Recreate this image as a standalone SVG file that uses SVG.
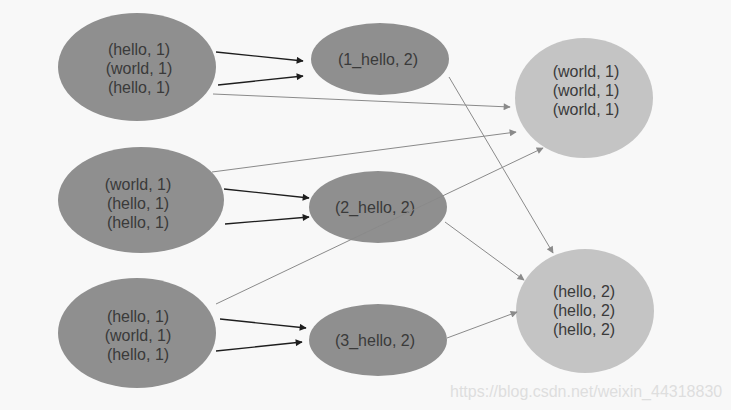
<svg xmlns="http://www.w3.org/2000/svg" width="731" height="410" viewBox="0 0 731 410">
<defs>
<marker id="ab" viewBox="0 0 10 10" refX="9" refY="5" markerWidth="9" markerHeight="7" markerUnits="userSpaceOnUse" orient="auto"><path d="M0,0 L10,5 L0,10 z" fill="#1e1e1e"/></marker>
<marker id="ag" viewBox="0 0 10 10" refX="9" refY="5" markerWidth="9" markerHeight="7" markerUnits="userSpaceOnUse" orient="auto"><path d="M0,0 L10,5 L0,10 z" fill="#8a8a8a"/></marker>
</defs>
<style>
.dk{fill:#8f8f8f}
.lt{fill:#c4c4c4}
text{font-family:"Liberation Sans",Arial,sans-serif;font-size:16px;fill:#3a3a3a;text-anchor:middle}
.b{stroke:#1e1e1e;stroke-width:1.3;fill:none;marker-end:url(#ab)}
.g{stroke:#8a8a8a;stroke-width:1;fill:none;marker-end:url(#ag)}
.wm{font-family:"Liberation Sans",Arial,sans-serif;font-size:16px;fill:#dedede;text-anchor:start}
</style>
<rect width="731" height="410" fill="#f8f8f8"/>
<g id="L1"><ellipse class="dk" cx="137" cy="67" rx="79" ry="54"/><text x="139" y="55">(hello, 1)</text><text x="139" y="74">(world, 1)</text><text x="139" y="93">(hello, 1)</text></g>
<g id="L2"><ellipse class="dk" cx="141" cy="200" rx="83" ry="53"/><text x="138" y="190">(world, 1)</text><text x="138" y="209">(hello, 1)</text><text x="138" y="228">(hello, 1)</text></g>
<g id="L3"><ellipse class="dk" cx="137" cy="333" rx="79" ry="55"/><text x="138" y="322">(hello, 1)</text><text x="138" y="341">(world, 1)</text><text x="138" y="360">(hello, 1)</text></g>
<g id="M1"><ellipse class="dk" cx="380" cy="59" rx="69" ry="36"/><text x="378" y="65">(1_hello, 2)</text></g>
<g id="M2"><ellipse class="dk" cx="378" cy="207" rx="69" ry="36"/><text x="375" y="213">(2_hello, 2)</text></g>
<g id="M3"><ellipse class="dk" cx="378" cy="340" rx="69" ry="36"/><text x="375" y="346">(3_hello, 2)</text></g>
<g id="R1"><ellipse class="lt" cx="584" cy="98" rx="69" ry="60"/><text x="586" y="77">(world, 1)</text><text x="586" y="96">(world, 1)</text><text x="586" y="115">(world, 1)</text></g>
<g id="R2"><ellipse class="lt" cx="585" cy="311" rx="69" ry="62"/><text x="584" y="297">(hello, 2)</text><text x="584" y="316">(hello, 2)</text><text x="584" y="335">(hello, 2)</text></g>
<g id="connectors">
<line class="b" x1="216" y1="52" x2="303" y2="61"/>
<line class="b" x1="218" y1="85" x2="303" y2="76"/>
<line class="g" x1="213" y1="94" x2="510" y2="107"/>
<line class="g" x1="449" y1="77" x2="553" y2="253"/>
<line class="g" x1="212" y1="172" x2="516" y2="132"/>
<line class="b" x1="224" y1="189" x2="309" y2="198"/>
<line class="b" x1="225" y1="224" x2="309" y2="217"/>
<line class="g" x1="216" y1="304" x2="543" y2="148"/>
<line class="g" x1="445" y1="222" x2="524" y2="280"/>
<line class="b" x1="220" y1="319" x2="306" y2="328"/>
<line class="b" x1="216" y1="351" x2="302" y2="342"/>
<line class="g" x1="447" y1="338" x2="517" y2="312"/>
</g>
<text class="wm" x="450" y="397">https://blog.csdn.net/weixin_44318830</text>
</svg>
